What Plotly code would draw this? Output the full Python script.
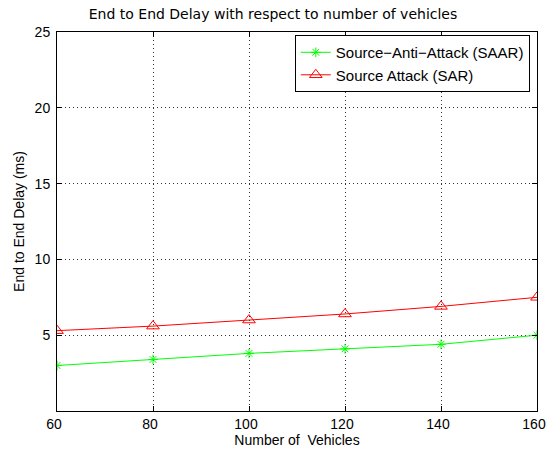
import plotly.graph_objects as go

vehicles = [60, 80, 100, 120, 140, 160]
saar = [3.0, 3.4, 3.8, 4.1, 4.4, 5.0]
sar = [5.3, 5.6, 6.0, 6.4, 6.9, 7.5]
x_ticks = [60, 80, 100, 120, 140, 160]
y_ticks = [5, 10, 15, 20, 25]

fig = go.Figure()
fig.add_trace(go.Scatter(x=vehicles, y=saar, mode="lines+markers", name="Source\u2212Anti\u2212Attack (SAAR)",
                         line=dict(color="#00ff00", width=1),
                         marker=dict(symbol="asterisk-open", size=8, color="#00ff00", line=dict(color="#00ff00", width=1))))
fig.add_trace(go.Scatter(x=vehicles, y=sar, mode="lines+markers", name="Source Attack (SAR)",
                         line=dict(color="#ff0000", width=1),
                         marker=dict(symbol="triangle-up-open", size=11, color="#ff0000", line=dict(color="#ff0000", width=1))))

axis_common = dict(showline=True, linecolor="black", linewidth=1, mirror="ticks", ticks="inside", ticklen=5,
                   tickcolor="black", showgrid=True, gridcolor="#333333", griddash="1px,3px", gridwidth=1, zeroline=False,
                   tickfont=dict(size=14, color="black"), ticklabeloverflow="allow")

fig.update_xaxes(range=[60, 160], tickvals=x_ticks, ticklabelshift=-3,
                 title=dict(text="Number of  Vehicles", font=dict(size=14, color="black"), standoff=0),
                 **axis_common)
fig.update_yaxes(range=[0, 25], tickvals=y_ticks, ticklabelstandoff=3,
                 title=dict(text="End to End Delay (ms)", font=dict(size=14, color="black"), standoff=6),
                 **axis_common)

fig.update_layout(
    width=546, height=450,
    margin=dict(l=57, r=9, t=32, b=39, autoexpand=False),
    paper_bgcolor="white", plot_bgcolor="white",
    font=dict(family="Liberation Sans, Arial, sans-serif", color="black"),
    title=dict(text="End to End Delay with respect to number of vehicles", x=0.5, xanchor="center",
               y=1 - 14 / 450, yanchor="middle",
               font=dict(size=14, color="black", family="DejaVu Sans, Liberation Sans, sans-serif")),
    legend=dict(x=0.985, y=0.992, xanchor="right", yanchor="top", bgcolor="white", bordercolor="black", borderwidth=1,
                font=dict(size=15, color="black"), tracegroupgap=0),
    showlegend=True,
)

# remove the default 8px page margin so the 546x450 figure fills the window
fig.write_html("out.html", config={"displayModeBar": False},
               post_script="document.body.style.margin='0';document.body.style.overflow='hidden';")
